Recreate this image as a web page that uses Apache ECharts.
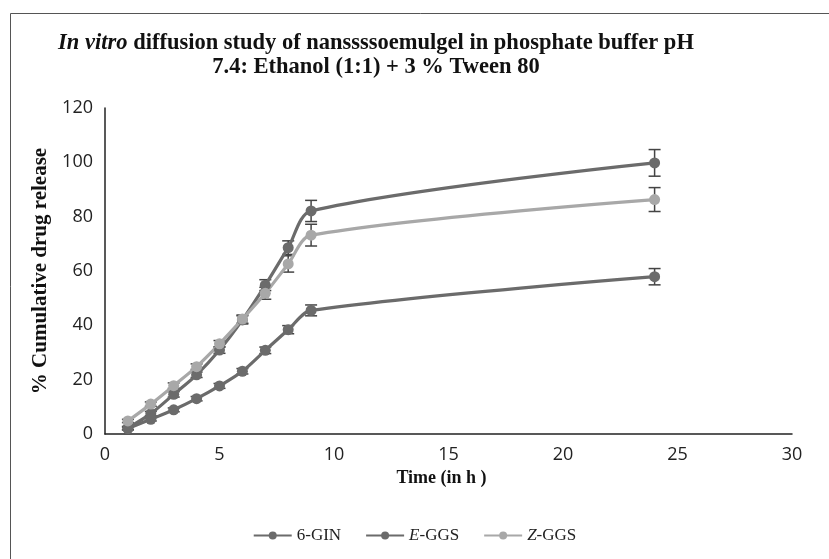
<!DOCTYPE html>
<html>
<head>
<meta charset="utf-8">
<script src="https://cdn.jsdelivr.net/npm/echarts@6/dist/echarts.min.js"></script>
<style>html,body{margin:0;padding:0;background:#fff;}#c{width:829px;height:559px;}</style>
</head>
<body>
<div id="c"></div>
<script>
var times = [1, 2, 3, 4, 5, 6, 7, 8, 9, 24];
var seriesNames = ['6-GIN', 'E-GGS', 'Z-GGS'];
var gin6 = [2.2, 7.5, 14.6, 21.8, 30.9, 42.0, 54.8, 68.6, 82.1, 99.8];
var eggs = [2.0, 5.4, 8.9, 13.0, 17.7, 23.1, 30.8, 38.4, 45.5, 57.9];
var zggs = [4.8, 11.0, 17.8, 24.8, 33.2, 42.3, 51.8, 62.6, 73.2, 86.3];
var gin6Err = [0.6, 0.8, 1.0, 1.0, 1.2, 1.5, 2.0, 2.5, 3.9, 4.9];
var eggsErr = [0.5, 0.6, 0.7, 0.8, 0.9, 1.0, 1.2, 1.5, 2.0, 3.0];
var zggsErr = [0.6, 0.8, 1.0, 1.0, 1.2, 1.5, 2.2, 3.0, 4.0, 4.4];
var xTicks = [0, 5, 10, 15, 20, 25, 30];
var yTicks = [0, 20, 40, 60, 80, 100, 120];
var titleLine1Italic = 'In vitro';
var titleLine1Rest = ' diffusion study of nanssssoemulgel in phosphate buffer pH';
var titleLine2 = '7.4: Ethanol (1:1) + 3 % Tween 80';

var darkC = '#6b6b6b', lightC = '#a8a8a8';
var chart = echarts.init(document.getElementById('c'));

function pairs(v) { return times.map(function (t, i) { return [t, v[i]]; }); }
function errData(v, e) { return times.map(function (t, i) { return [t, v[i] - e[i], v[i] + e[i]]; }); }

function errSeries(v, e) {
  return {
    type: 'custom',
    data: errData(v, e),
    z: 1,
    silent: true,
    renderItem: function (params, api) {
      var x = api.value(0);
      var lo = api.coord([x, api.value(1)]);
      var hi = api.coord([x, api.value(2)]);
      var w = 6;
      var st = { stroke: '#444', lineWidth: 1.5 };
      return {
        type: 'group',
        children: [
          { type: 'line', shape: { x1: lo[0], y1: lo[1], x2: hi[0], y2: hi[1] }, style: st },
          { type: 'line', shape: { x1: lo[0] - w, y1: lo[1], x2: lo[0] + w, y2: lo[1] }, style: st },
          { type: 'line', shape: { x1: hi[0] - w, y1: hi[1], x2: hi[0] + w, y2: hi[1] }, style: st }
        ]
      };
    }
  };
}

function lineSeries(name, v, color) {
  return {
    name: name,
    type: 'line',
    data: pairs(v),
    smooth: 0.3,
    symbol: 'circle',
    symbolSize: 11,
    z: 3,
    lineStyle: { color: color, width: 3.2 },
    itemStyle: { color: color },
    emphasis: { disabled: true }
  };
}

var serif = '"Liberation Serif", "Times New Roman", serif';

chart.setOption({
  animation: false,
  backgroundColor: '#fff',
  graphic: [
    { type: 'rect', left: 8, top: 11, shape: { width: 840, height: 560 }, style: { fill: 'none', stroke: '#555', lineWidth: 1 } }
  ],
  title: [{
    text: '{i|' + titleLine1Italic + '}{b|' + titleLine1Rest + '}',
    left: 371,
    top: 27,
    textAlign: 'center',
    textStyle: {
      rich: {
        i: { fontFamily: serif, fontSize: 22.5, fontWeight: 'bold', fontStyle: 'italic', color: '#111' },
        b: { fontFamily: serif, fontSize: 22.5, fontWeight: 'bold', color: '#111' }
      }
    }
  }, {
    text: titleLine2,
    left: 371,
    top: 51,
    textAlign: 'center',
    textStyle: { fontFamily: serif, fontSize: 22.5, fontWeight: 'bold', color: '#111' }
  }],
  legend: {
    bottom: 10,
    left: 'center',
    itemWidth: 38,
    itemHeight: 10,
    itemGap: 24,
    data: seriesNames,
    textStyle: {
      fontFamily: serif, fontSize: 17, color: '#222',
      rich: {
        it: { fontFamily: serif, fontSize: 17, fontStyle: 'italic', color: '#222' },
        n: { fontFamily: serif, fontSize: 17, color: '#222' }
      }
    },
    formatter: function (name) {
      if (name === 'E-GGS') return '{it|E}{n|-GGS}';
      if (name === 'Z-GGS') return '{it|Z}{n|-GGS}';
      return '{n|' + name + '}';
    }
  },
  grid: { left: 105, right: 37, top: 108, bottom: 125 },
  xAxis: {
    type: 'value', min: xTicks[0], max: xTicks[xTicks.length - 1], interval: 5,
    name: 'Time (in h )', nameLocation: 'middle', nameGap: 28,
    nameTextStyle: { fontFamily: serif, fontSize: 18, fontWeight: 'bold', color: '#111', padding: [0, 14, 0, 0] },
    axisLine: { lineStyle: { color: '#222', width: 1.5 } },
    axisTick: { show: false },
    splitLine: { show: false },
    axisLabel: { fontFamily: '"Open Sans", sans-serif', fontSize: 18, color: '#222', margin: 12 }
  },
  yAxis: {
    type: 'value', min: yTicks[0], max: yTicks[yTicks.length - 1], interval: 20,
    name: '% Cumulative drug release', nameLocation: 'middle', nameGap: 53, nameRotate: 90,
    nameTextStyle: { fontFamily: serif, fontSize: 21, fontWeight: 'bold', color: '#111' },
    axisLine: { show: true, lineStyle: { color: '#222', width: 1.5 } },
    axisTick: { show: false },
    splitLine: { show: false },
    axisLabel: { fontFamily: '"Open Sans", sans-serif', fontSize: 18, color: '#222', margin: 12 }
  },
  series: [
    errSeries(gin6, gin6Err),
    errSeries(eggs, eggsErr),
    errSeries(zggs, zggsErr),
    lineSeries(seriesNames[0], gin6, darkC),
    lineSeries(seriesNames[1], eggs, darkC),
    lineSeries(seriesNames[2], zggs, lightC)
  ]
});
</script>
</body>
</html>
